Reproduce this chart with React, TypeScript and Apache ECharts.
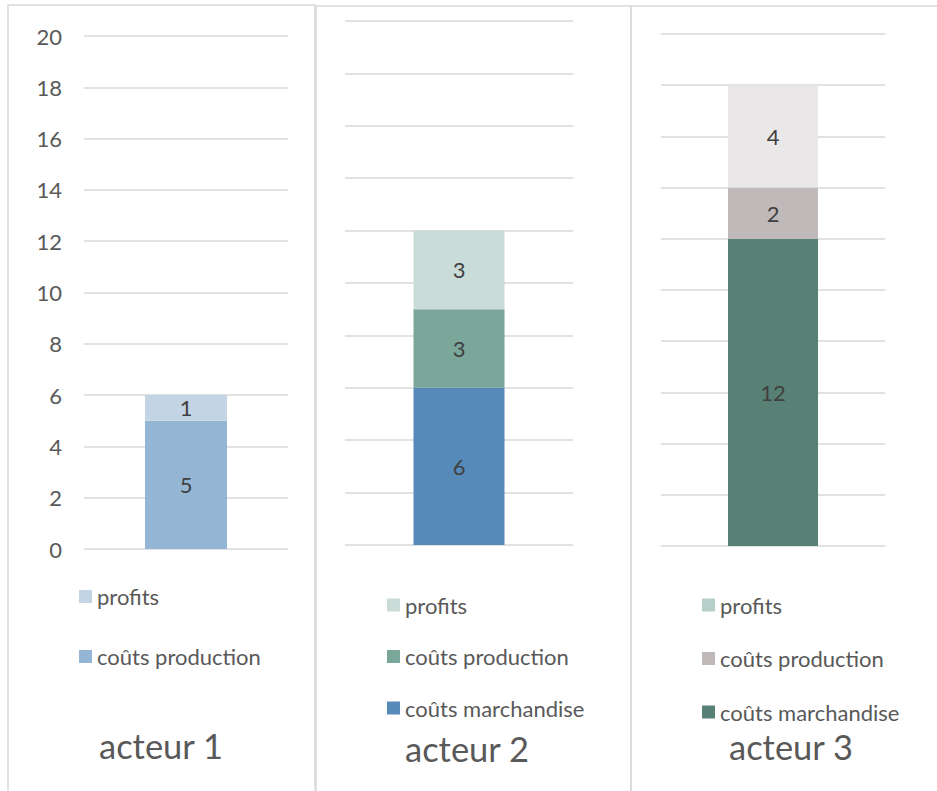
import React, { useEffect, useRef } from "react";
import * as echarts from "echarts";

const categories = ["acteur 1", "acteur 2", "acteur 3"];
const yTicks = { min: 0, max: 20, interval: 2 };

const acteur1Series = ["coûts production", "profits"];
const acteur1Values = [5, 1];
const acteur1Colors = ["#94b5d3", "#c3d4e5"];

const acteur2Series = ["coûts marchandise", "coûts production", "profits"];
const acteur2Values = [6, 3, 3];
const acteur2Colors = ["#558ab9", "#7aa79a", "#c9dcd8"];

const acteur3Series = ["coûts marchandise", "coûts production", "profits"];
const acteur3Values = [12, 2, 4];
const acteur3Colors = ["#578174", "#bfb9b9", "#e9e7e8"];
const acteur3LegendColors = ["#578174", "#bfb9b9", "#b6cfc8"];

const FONT = "Lato, 'Open Sans', sans-serif";
const TEXT = "#595959";
const GRID = "#d9d9d9";

const panels = [
  { grid: { left: 84, width: 204, top: 36, height: 513 }, barWidth: 82, showY: true,
    legend: { left: 79, top: 585.5, gap: 38 }, title: { x: 161, y: 745 },
    border: { x: 8, y: 5, width: 307, height: 820 } },
  { grid: { left: 345, width: 228, top: 21, height: 524 }, barWidth: 91, showY: false,
    legend: { left: 387, top: 594, gap: 29.5 }, title: { x: 467, y: 748 },
    border: { x: 316, y: 6, width: 315, height: 820 } },
  { grid: { left: 661, width: 224, top: 34, height: 512 }, barWidth: 90, showY: false,
    legend: { left: 702, top: 594, gap: 31.5 }, title: { x: 791, y: 746 },
    border: { x: 631, y: 6, width: 330, height: 820 } },
];

const actorData = [
  { names: acteur1Series, values: acteur1Values, colors: acteur1Colors, legendColors: acteur1Colors },
  { names: acteur2Series, values: acteur2Values, colors: acteur2Colors, legendColors: acteur2Colors },
  { names: acteur3Series, values: acteur3Values, colors: acteur3Colors, legendColors: acteur3LegendColors },
];

export default function App() {
  const ref = useRef<HTMLDivElement>(null);
  useEffect(() => {
    if (!ref.current) return;
    const chart = echarts.init(ref.current, undefined, { renderer: "svg" });
    const key = (i: number, n: string) => `${categories[i]}|${n}`;
    const fmt = (n: string) => n.split("|")[1];

    const series: any[] = [];
    actorData.forEach((a, i) => {
      a.names.forEach((n, j) => {
        series.push({
          type: "bar",
          name: key(i, n),
          stack: "s" + i,
          xAxisIndex: i,
          yAxisIndex: i,
          barWidth: panels[i].barWidth,
          data: [a.values[j]],
          itemStyle: { color: a.colors[j] },
          label: {
            show: true,
            position: "inside",
            color: "#404040",
            fontSize: 22,
            fontFamily: FONT,
          },
        });
      });
    });

    const option: any = {
      animation: false,
      backgroundColor: "#ffffff",
      textStyle: { fontFamily: FONT },
      grid: panels.map((p) => ({ ...p.grid, containLabel: false })),
      xAxis: panels.map((p, i) => ({
        type: "category",
        gridIndex: i,
        data: [categories[i]],
        axisLine: { show: false },
        axisTick: { show: false },
        axisLabel: { show: false },
      })),
      yAxis: panels.map((p, i) => ({
        type: "value",
        gridIndex: i,
        min: yTicks.min,
        max: yTicks.max,
        interval: yTicks.interval,
        axisLine: { show: false },
        axisTick: { show: false },
        axisLabel: {
          show: p.showY,
          color: TEXT,
          fontSize: 22,
          fontFamily: FONT,
          margin: 22,
        },
        splitLine: { lineStyle: { color: GRID, width: 1.5 } },
      })),
      legend: actorData.map((a, i) => ({
        orient: "vertical",
        left: panels[i].legend.left,
        top: panels[i].legend.top,
        padding: 0,
        itemWidth: 13,
        itemHeight: 13,
        itemGap: panels[i].legend.gap,
        icon: "rect",
        selectedMode: false,
        formatter: fmt,
        textStyle: { color: TEXT, fontSize: 22, fontFamily: FONT, lineHeight: 22 },
        data: a.names
          .map((n, j) => ({ name: key(i, n), itemStyle: { color: a.legendColors[j] } }))
          .reverse(),
      })),
      graphic: [
        ...panels.map((p) => ({
          type: "rect",
          shape: { ...p.border },
          style: { fill: "none", stroke: GRID, lineWidth: 1.5 },
          silent: true,
        })),
        ...panels.map((p, i) => ({
          type: "text",
          x: p.title.x,
          y: p.title.y,
          style: {
            text: categories[i],
            fill: TEXT,
            fontSize: 34.5,
            fontFamily: FONT,
            textAlign: "center",
            textVerticalAlign: "middle",
          },
        })),
      ],
      series,
    };
    chart.setOption(option);
    return () => chart.dispose();
  }, []);
  return (
    <div
      ref={ref}
      style={{ position: "fixed", left: 0, top: 0, width: 937, height: 791 }}
    />
  );
}
